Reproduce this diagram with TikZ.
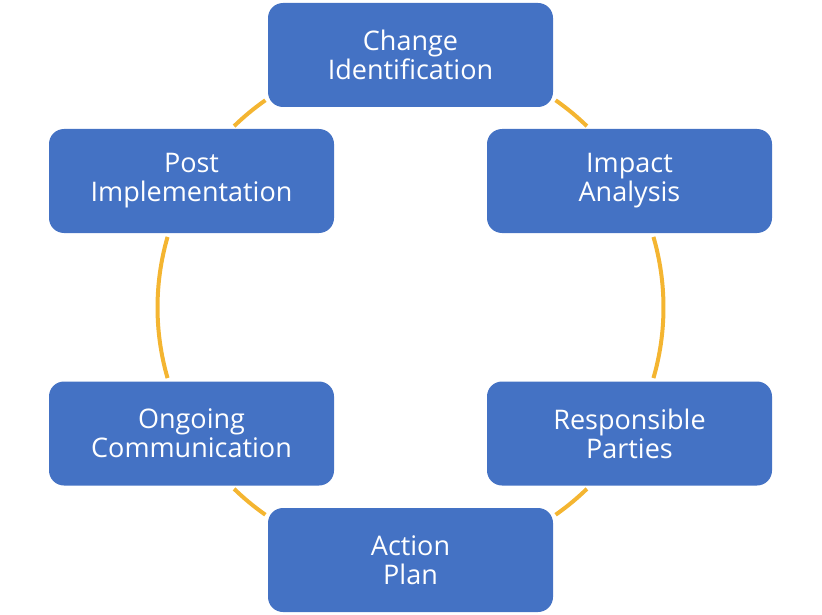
\documentclass[tikz,border=0pt]{standalone}
\usepackage{fontspec}
\setmainfont{Open Sans}
\definecolor{boxblue}{HTML}{4472C4}
\definecolor{ringgold}{HTML}{F4B531}
\begin{document}
\begin{tikzpicture}[x=1pt,y=1pt,
  stage/.style={rectangle, rounded corners=15pt, fill=boxblue, draw=none,
    minimum width=285pt, minimum height=104pt, text=white, align=center,
    font=\fontsize{27}{29}\selectfont},
  ring/.style={draw=ringgold, line width=4pt}]
\useasboundingbox (0,0) rectangle (822,-615);
\coordinate (c) at (410.5,-307.5);
\node[stage] (ci) at (410.5,-55) {Change\\Identification};
\node[stage] (ia) at (629.5,-181) {Impact\\Analysis};
\node[stage] (rp) at (629.5,-433.5) {Responsible\\Parties};
\node[stage] (ap) at (410.5,-560) {Action\\Plan};
\node[stage] (oc) at (191.5,-433.5) {Ongoing\\Communication};
\node[stage] (pi) at (191.5,-181) {Post\\Implementation};
\draw[ring] ([shift={(55:253)}]c) arc[start angle=55, end angle=45.8, radius=253];
\draw[ring] ([shift={(16.2:253)}]c) arc[start angle=16.2, end angle=-16.2, radius=253];
\draw[ring] ([shift={(-45.8:253)}]c) arc[start angle=-45.8, end angle=-55, radius=253];
\draw[ring] ([shift={(-125:253)}]c) arc[start angle=-125, end angle=-134.2, radius=253];
\draw[ring] ([shift={(-163.8:253)}]c) arc[start angle=-163.8, end angle=-196.2, radius=253];
\draw[ring] ([shift={(134.2:253)}]c) arc[start angle=134.2, end angle=125, radius=253];
\end{tikzpicture}
\end{document}
